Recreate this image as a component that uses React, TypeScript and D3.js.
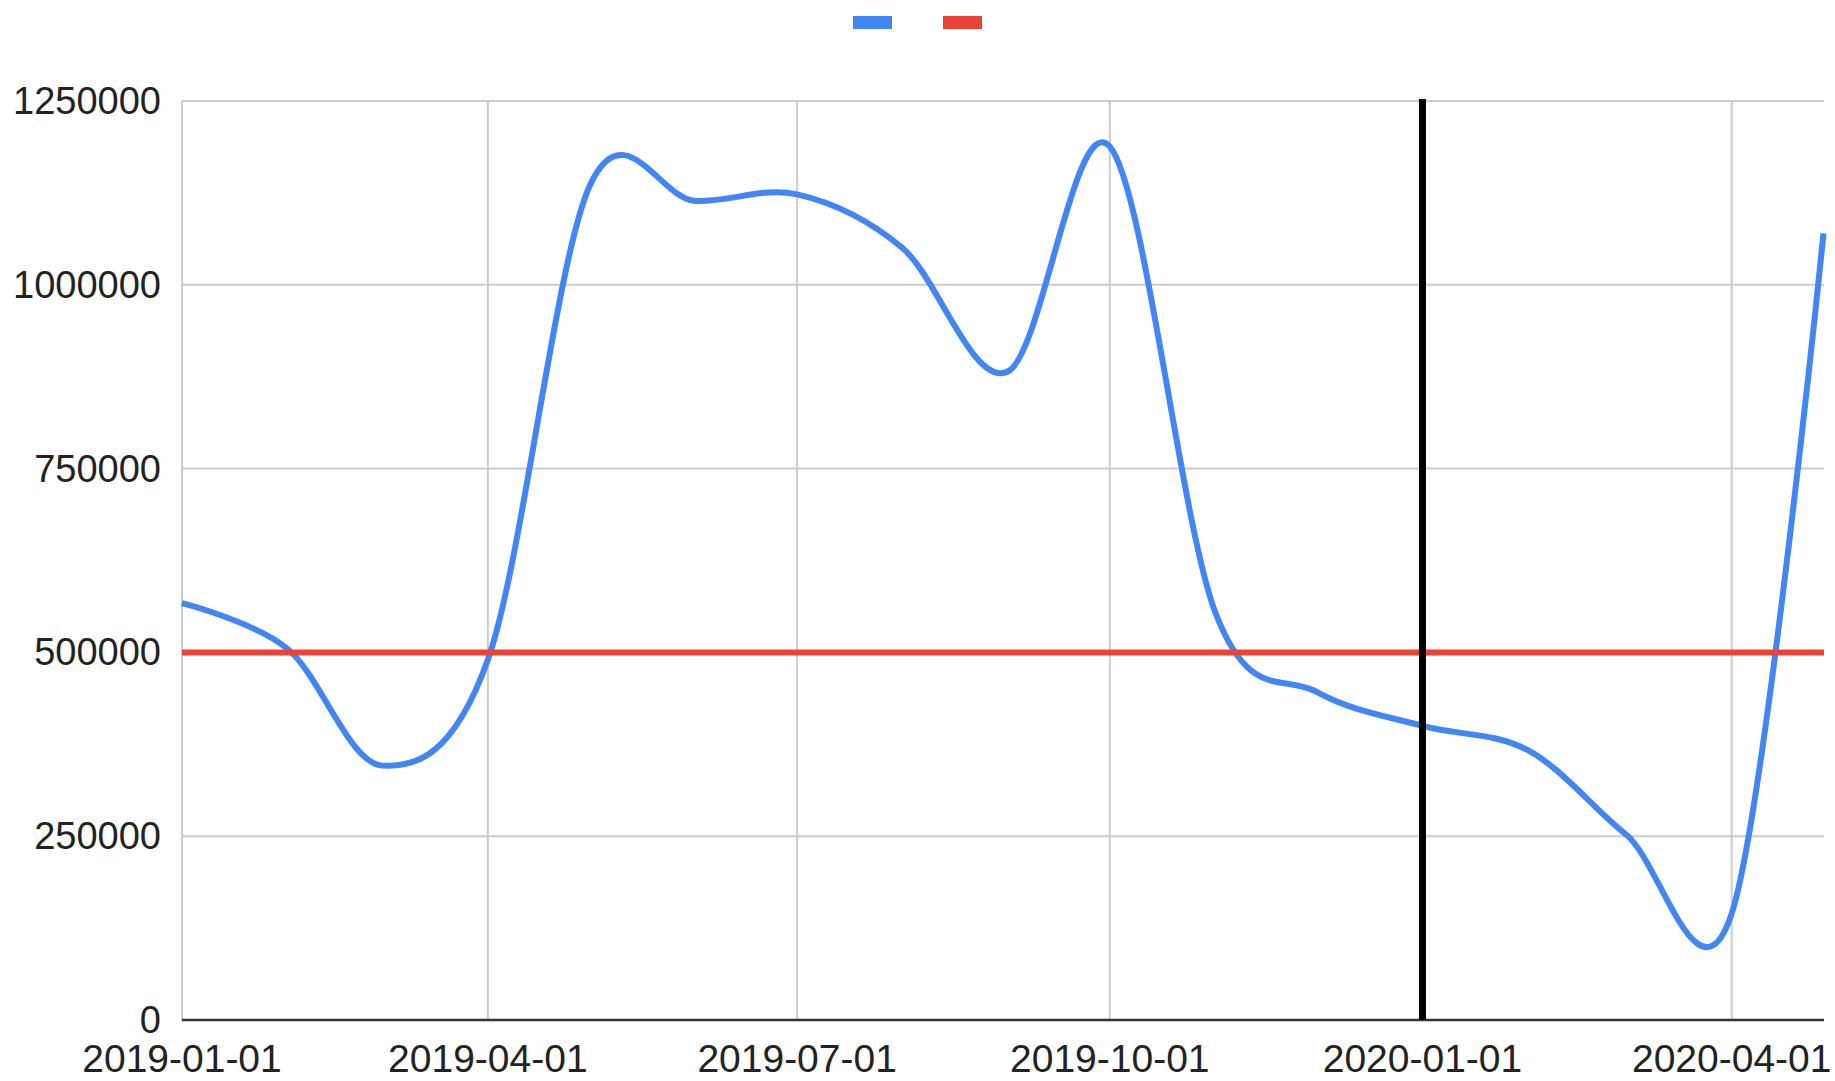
import React from "react";
import * as d3 from "d3";

const dates = [
  "2019-01-01", "2019-02-01", "2019-03-01", "2019-04-01", "2019-05-01", "2019-06-01",
  "2019-07-01", "2019-08-01", "2019-09-01", "2019-10-01", "2019-11-01", "2019-12-01",
  "2020-01-01", "2020-02-01", "2020-03-01", "2020-04-01", "2020-04-28",
];
const values = [
  567000, 505000, 346000, 490000, 1135000, 1114000,
  1123000, 1050000, 882000, 1188000, 555000, 446000,
  400000, 367000, 252000, 145000, 1070000,
];
const thresholdValue = 500000;
const markerDate = "2020-01-01";
const yTicks = [0, 250000, 500000, 750000, 1000000, 1250000];
const xTickLabels = ["2019-01-01", "2019-04-01", "2019-07-01", "2019-10-01", "2020-01-01", "2020-04-01"];
const seriesColors = ["#4285F4", "#EA4335"];

const W = 1835;
const H = 1081;
const L = 182;
const R = 1823.5;
const T = 101;
const B = 1020;

export default function App() {
  const parse = (s: string) => new Date(s + "T00:00:00Z");
  const x = d3.scaleUtc().domain([parse(dates[0]), parse(dates[dates.length - 1])]).range([L, R]);
  const y = d3.scaleLinear().domain([0, 1250000]).range([B, T]);

  const pts: [number, number][] = dates.map((d, i) => [x(parse(d)), y(values[i])]);
  const linePath = d3.line().curve(d3.curveCardinal.tension(0))(pts) || "";

  const font = "'Liberation Sans', Arial, sans-serif";

  return (
    <div style={{ position: "fixed", left: 0, top: 0, width: W, height: H, background: "#fff" }}>
      <svg width={W} height={H} style={{ display: "block" }}>
        <rect x={0} y={0} width={W} height={H} fill="#fff" />
        {/* legend */}
        <rect x={853} y={16} width={39} height={13} fill={seriesColors[0]} />
        <rect x={943} y={16} width={39} height={13} fill={seriesColors[1]} />
        {/* gridlines */}
        {yTicks.filter((t) => t !== 0).map((t) => (
          <line key={"gy" + t} x1={L} x2={R + 0.5} y1={y(t)} y2={y(t)} stroke="#cccccc" strokeWidth={2} />
        ))}
        {xTickLabels.map((d) => (
          <line key={"gx" + d} x1={x(parse(d))} x2={x(parse(d))} y1={T} y2={B} stroke="#cccccc" strokeWidth={2} />
        ))}
        {/* baseline */}
        <line x1={L} x2={R + 0.5} y1={B} y2={B} stroke="#333333" strokeWidth={2.5} />
        {/* y labels */}
        {yTicks.map((t) => (
          <text key={"ty" + t} x={161} y={y(t) + 13} textAnchor="end" fontFamily={font} fontSize={38} fill="#222222">
            {String(t)}
          </text>
        ))}
        {/* x labels */}
        {xTickLabels.map((d) => (
          <text key={"tx" + d} x={x(parse(d))} y={1072} textAnchor="middle" fontFamily={font} fontSize={39} fill="#222222">
            {d}
          </text>
        ))}
        {/* series */}
        <path d={linePath} fill="none" stroke={seriesColors[0]} strokeWidth={6} strokeLinejoin="round" />
        <line x1={L} x2={R + 0.5} y1={y(thresholdValue)} y2={y(thresholdValue)} stroke={seriesColors[1]} strokeWidth={6} />
        {/* marker */}
        <line x1={x(parse(markerDate))} x2={x(parse(markerDate))} y1={T - 2} y2={B} stroke="#000000" strokeWidth={7} />
      </svg>
    </div>
  );
}
